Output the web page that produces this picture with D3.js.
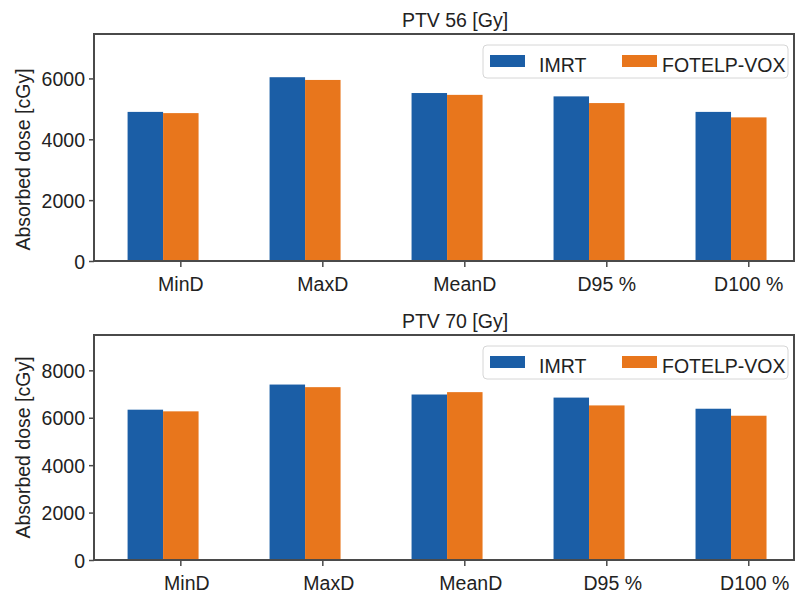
<!DOCTYPE html>
<html>
<head>
<meta charset="utf-8">
<script src="https://cdn.jsdelivr.net/npm/d3@7"></script>
<style>
  body { margin: 0; background: #fff; }
  text { font-family: "Liberation Sans", Arial, sans-serif; fill: #222; }
</style>
</head>
<body>
<svg id="chart" width="801" height="595"></svg>
<script>
// chart data
var categories = ["MinD", "MaxD", "MeanD", "D95 %", "D100 %"];
var seriesNames = ["IMRT", "FOTELP-VOX"];

var ptv56Imrt   = [4900, 6040, 5520, 5410, 4900];
var ptv56Fotelp = [4860, 5950, 5460, 5190, 4720];
var ptv56Ticks  = [0, 2000, 4000, 6000];

var ptv70Imrt   = [6340, 7400, 6980, 6850, 6380];
var ptv70Fotelp = [6270, 7290, 7080, 6520, 6085];
var ptv70Ticks  = [0, 2000, 4000, 6000, 8000];

var colors = ["#1b5ea6", "#e8761c"];

var svg = d3.select("#chart");

function drawPanel(opt) {
  var left = 94, right = 794;
  var g = svg.append("g");

  var x = d3.scaleBand()
    .domain(categories)
    .range([left, right])
    .paddingInner(0.5)
    .paddingOuter(0.215)
    .align(0.55);

  var y = d3.scaleLinear()
    .domain([0, opt.yMax])
    .range([opt.bottom, opt.top]);

  var bw = x.bandwidth() / 2;

  // bars
  [opt.imrt, opt.fotelp].forEach(function (vals, s) {
    g.selectAll(".bar" + s)
      .data(categories)
      .enter()
      .append("rect")
      .attr("x", function (d) { return x(d) + s * bw; })
      .attr("y", function (d, i) { return y(vals[i]); })
      .attr("width", bw)
      .attr("height", function (d, i) { return opt.bottom - y(vals[i]); })
      .attr("fill", colors[s]);
  });

  // y axis
  var yAxis = g.append("g")
    .attr("transform", "translate(" + left + ",0)")
    .call(d3.axisLeft(y).tickValues(opt.ticks).tickSize(5).tickPadding(4).tickFormat(d3.format("d")));
  yAxis.select(".domain").remove();
  yAxis.selectAll("text").style("font-size", "19.5px").attr("dy", "0.36em");
  yAxis.selectAll("line").attr("stroke", "#4a4a4a").attr("stroke-width", 1.5);

  // x axis, ticks sit under the second bar of each group
  var xAxis = g.append("g")
    .attr("transform", "translate(0," + opt.bottom + ")")
    .call(d3.axisBottom(x).tickSize(6).tickPadding(opt.labelGap).tickFormat(function (d) { return d; }));
  xAxis.selectAll(".tick").attr("transform", function (d) {
    return "translate(" + (x(d) + bw * 1.5) + ",0)";
  });
  xAxis.select(".domain").remove();
  xAxis.selectAll("text").style("font-size", "19.5px").attr("dx", opt.labelDx);
  xAxis.selectAll("line").attr("stroke", "#4a4a4a").attr("stroke-width", 1.5);

  // frame
  g.append("rect")
    .attr("x", left).attr("y", opt.top)
    .attr("width", right - left).attr("height", opt.bottom - opt.top)
    .attr("fill", "none").attr("stroke", "#4a4a4a").attr("stroke-width", 2);

  // title
  g.append("text")
    .attr("x", 455).attr("y", opt.top - 7)
    .attr("text-anchor", "middle")
    .style("font-size", "19.5px")
    .text(opt.title);

  // y label
  g.append("text")
    .attr("transform", "translate(30," + ((opt.top + opt.bottom) / 2 + opt.ylabDy) + ") rotate(-90)")
    .attr("text-anchor", "middle")
    .style("font-size", "19.5px")
    .text("Absorbed dose [cGy]");

  // legend
  var lg = g.append("g").attr("transform", "translate(483," + (opt.top + 11) + ")");
  lg.append("rect")
    .attr("width", 305).attr("height", 33).attr("rx", 4)
    .attr("fill", "#fff").attr("stroke", "#d6d6d6");
  var items = [{ x: 7, tx: 56 }, { x: 139, tx: 179 }];
  seriesNames.forEach(function (name, i) {
    lg.append("rect")
      .attr("x", items[i].x).attr("y", 10)
      .attr("width", 35).attr("height", 12)
      .attr("fill", colors[i]);
    lg.append("text")
      .attr("x", items[i].tx).attr("y", 27)
      .style("font-size", "19.5px")
      .text(name);
  });
}

drawPanel({
  title: "PTV 56 [Gy]", imrt: ptv56Imrt, fotelp: ptv56Fotelp, ticks: ptv56Ticks,
  yMax: 7460, top: 34, bottom: 261, labelGap: 10, labelDx: 0, ylabDy: 12
});

drawPanel({
  title: "PTV 70 [Gy]", imrt: ptv70Imrt, fotelp: ptv70Fotelp, ticks: ptv70Ticks,
  yMax: 9490, top: 335, bottom: 560, labelGap: 10, labelDx: 6, ylabDy: 0
});
</script>
</body>
</html>
